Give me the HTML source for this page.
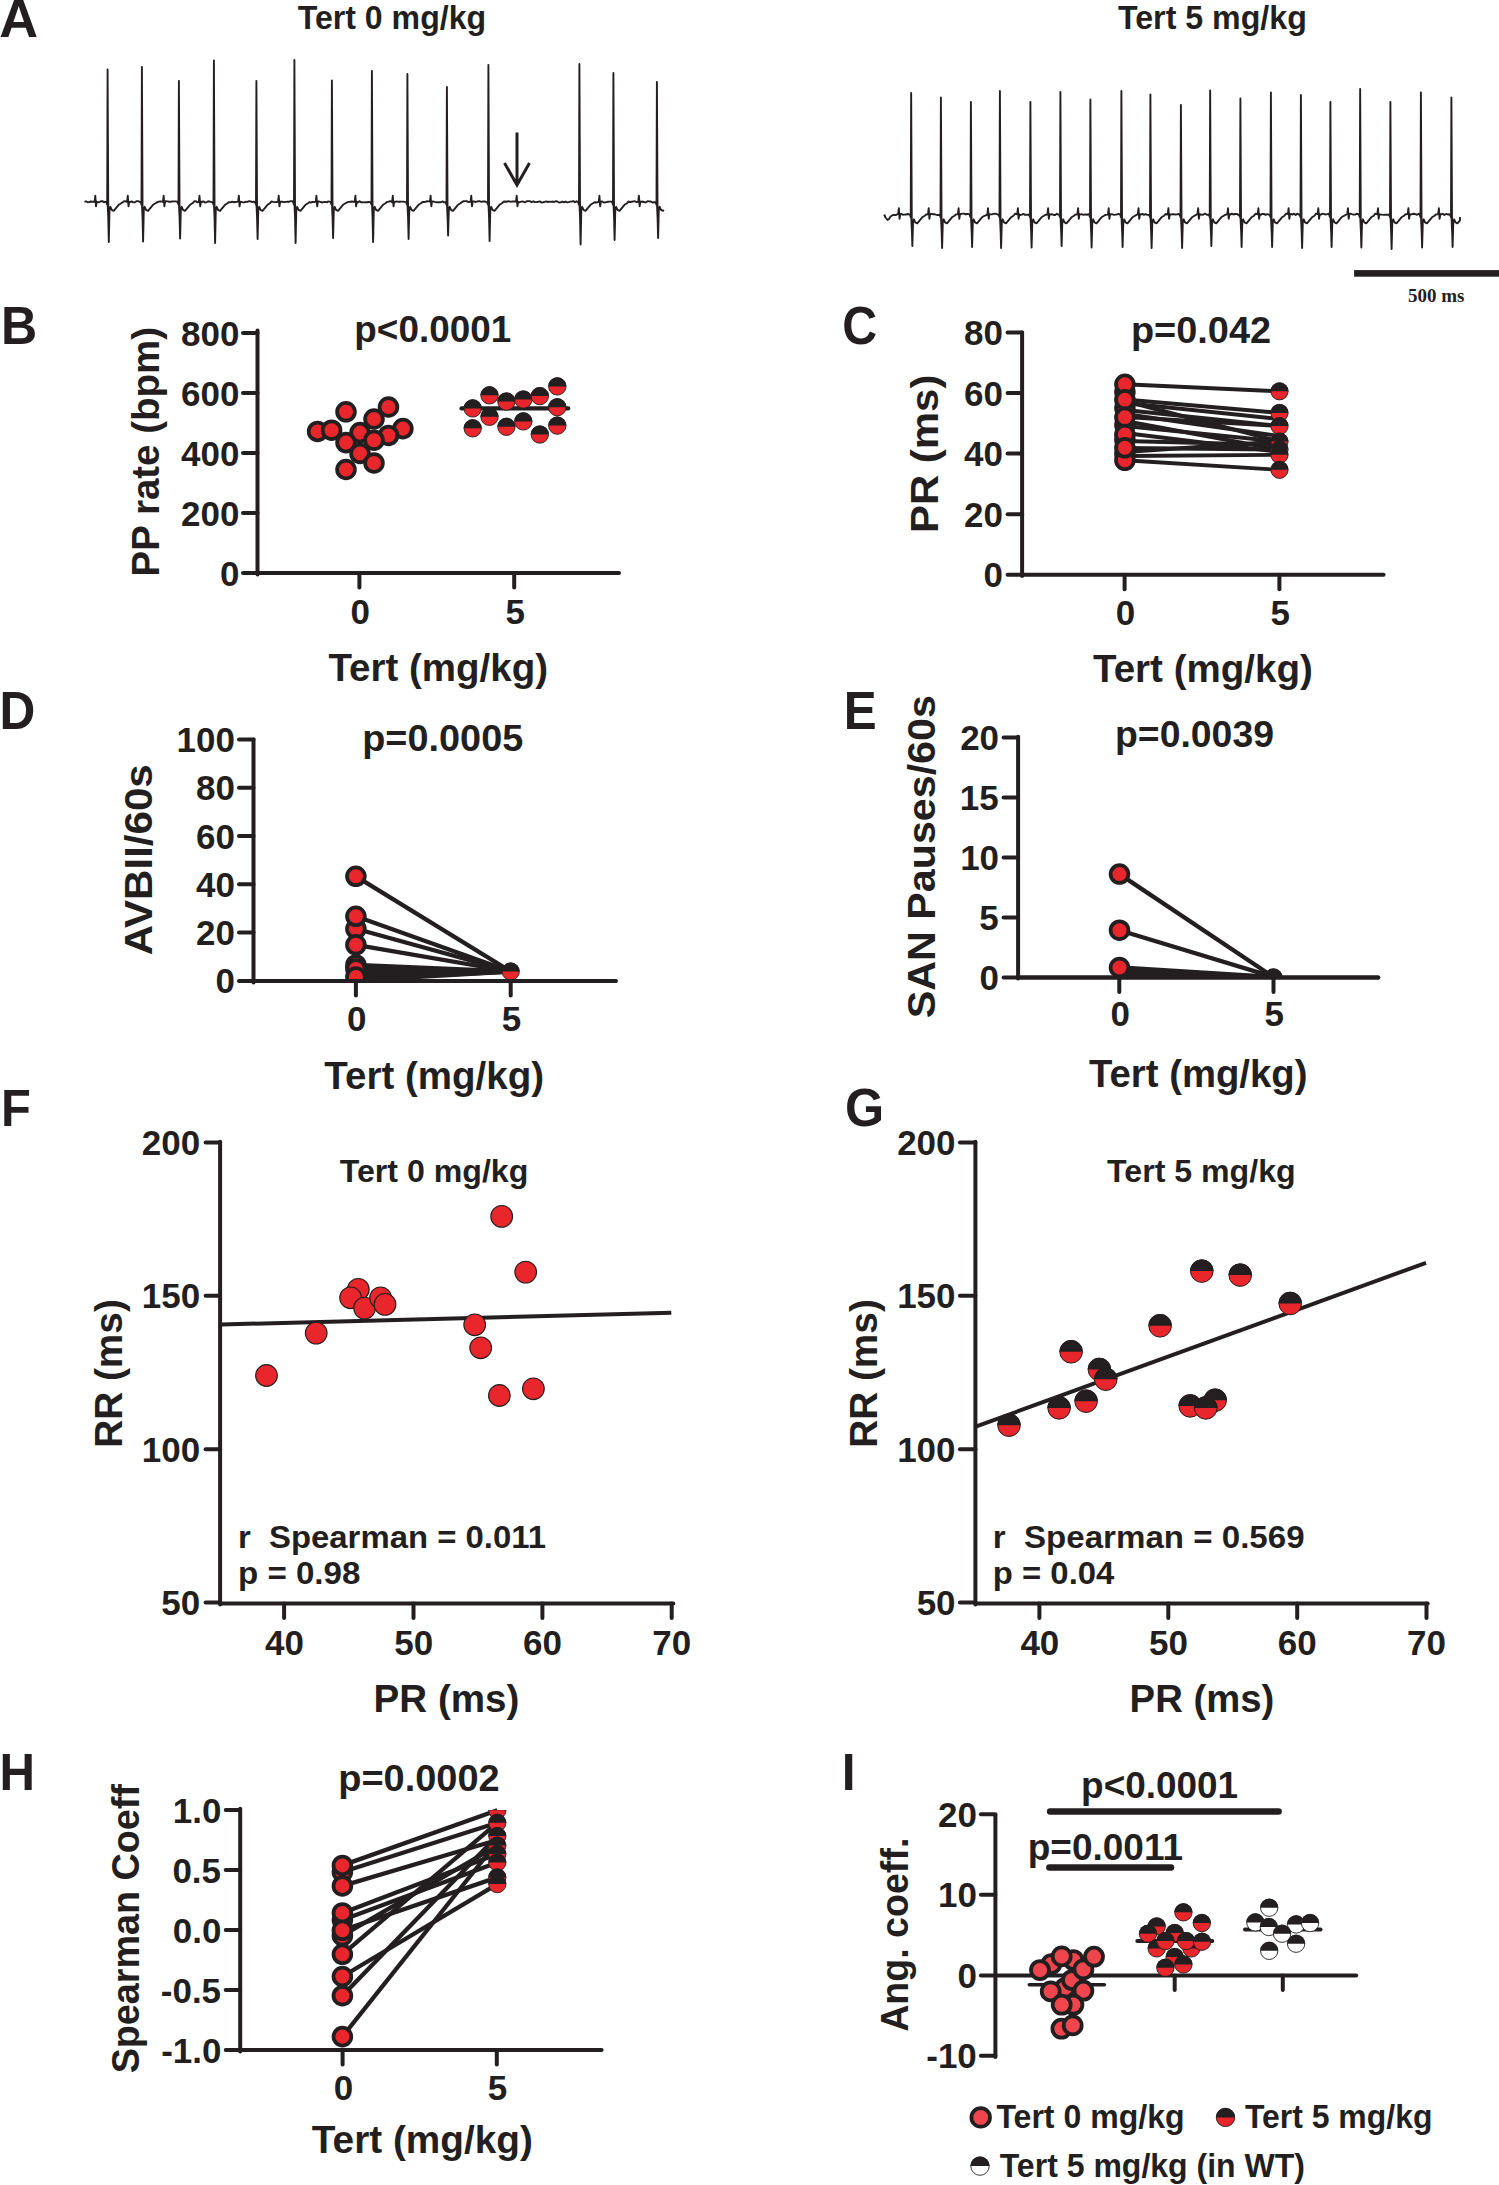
<!DOCTYPE html>
<html><head><meta charset="utf-8"><style>html,body{margin:0;padding:0;background:#fff;}svg{display:block}</style></head>
<body><svg width="1499" height="2185" viewBox="0 0 1499 2185">
<rect width="1499" height="2185" fill="#fff"/>
<text xml:space="preserve" transform="translate(-0.65,36.7) scale(1.0093,1)" font-family='"Liberation Sans", sans-serif' font-weight="bold" font-size="53.38" fill="#231f20">A</text>
<text xml:space="preserve" transform="translate(297.68,28.8) scale(0.9726,1)" font-family='"Liberation Sans", sans-serif' font-weight="bold" font-size="33" fill="#231f20">Tert 0 mg/kg</text>
<text xml:space="preserve" transform="translate(1117.98,28.9) scale(0.9747,1)" font-family='"Liberation Sans", sans-serif' font-weight="bold" font-size="33" fill="#231f20">Tert 5 mg/kg</text>
<path d="M84.5 201.8 L86 201.29 L87.6 202.29 L89.2 202.17 L90.8 201.46 L92.4 201.79 L94.6 201.76 L95.3 195.8 L96 206.3 L96.7 201.8 L97.6 202.01 L99.2 202.2 L100.8 201.23 L102.4 201.14 L104 202.27 L105.6 201.71 L106.4 202.3 L107.2 204.8 L107.6 69.5 L108.3 218.8 L107.7 204.8 L108.6 216.8 L108 206.8 L108.8 242 L109.5 209.8 L110.4 206.8 L111.7 209.8 L113.7 210.8 L116.2 207.8 L118.7 204.8 L121.2 203.3 L122.7 202.17 L124.3 201.1 L127.09 201.76 L127.79 195.8 L128.49 206.3 L129.19 201.8 L130.09 202.11 L131.69 201.42 L133.29 202.42 L134.89 202.36 L136.49 201.14 L138.09 201.14 L139.69 201.86 L140.7 202.3 L141.5 204.8 L141.9 67 L142.6 218.8 L142 204.8 L142.9 216.8 L142.3 206.8 L143.1 241.5 L143.8 209.8 L144.7 206.8 L146 209.8 L148 210.8 L150.5 207.8 L153 204.8 L155.5 203.3 L157 202.41 L158.6 201.63 L160.2 201.4 L162.96 201.74 L163.66 195.8 L164.36 206.3 L165.06 201.8 L165.96 201.14 L167.56 201.41 L169.16 201.71 L170.76 201.79 L172.36 201.43 L173.96 201.42 L175.56 201.41 L177.16 201.74 L177.7 202.3 L178.5 204.8 L178.9 81 L179.6 218.8 L179 204.8 L179.9 216.8 L179.3 206.8 L180.1 238.5 L180.8 209.8 L181.7 206.8 L183 209.8 L185 210.8 L187.5 207.8 L190 204.8 L192.5 203.3 L194 201.51 L195.6 201.13 L197.2 202.27 L198.8 201.85 L199.5 195.8 L200.2 206.3 L200.9 201.8 L201.8 202 L203.4 201.36 L205 202.49 L206.6 202.3 L208.2 201.27 L209.8 201.57 L211.4 202.11 L212.7 202.3 L213.5 204.8 L213.9 60.5 L214.6 218.8 L214 204.8 L214.9 216.8 L214.3 206.8 L215.1 243 L215.8 209.8 L216.7 206.8 L218 209.8 L220 210.8 L222.5 207.8 L225 204.8 L227.5 203.3 L229 202.1 L230.6 202.41 L232.2 201.69 L233.8 202.26 L235.4 202.04 L238.15 201.64 L238.85 195.8 L239.55 206.3 L240.25 201.8 L241.15 201.92 L242.75 202.34 L244.35 202.28 L245.95 201.81 L247.55 201.92 L249.15 201.15 L250.75 201.44 L252.35 202.22 L253.95 201.68 L255.2 202.3 L256 204.8 L256.4 81 L257.1 218.8 L256.5 204.8 L257.4 216.8 L256.8 206.8 L257.6 239 L258.3 209.8 L259.2 206.8 L260.5 209.8 L262.5 210.8 L265 207.8 L267.5 204.8 L270 203.3 L271.5 201.34 L273.1 201.87 L274.7 202.08 L276.3 202.04 L278.04 201.7 L278.74 195.8 L279.44 206.3 L280.14 201.8 L281.04 201.71 L282.64 201.81 L284.24 202.19 L285.84 201.83 L287.44 201.65 L289.04 201.79 L290.64 201.14 L292.24 201.16 L293.2 202.3 L294 204.8 L294.4 60 L295.1 218.8 L294.5 204.8 L295.4 216.8 L294.8 206.8 L295.6 243 L296.3 209.8 L297.2 206.8 L298.5 209.8 L300.5 210.8 L303 207.8 L305.5 204.8 L308 203.3 L309.5 202.08 L311.1 202.48 L312.7 201.93 L315.75 201.71 L316.45 195.8 L317.15 206.3 L317.85 201.8 L318.75 201.34 L320.35 201.8 L321.95 202.47 L323.55 202.18 L325.15 201.86 L326.75 202.3 L328.35 201.43 L329.95 201.82 L330.7 202.3 L331.5 204.8 L331.9 80.5 L332.6 218.8 L332 204.8 L332.9 216.8 L332.3 206.8 L333.1 238 L333.8 209.8 L334.7 206.8 L336 209.8 L338 210.8 L340.5 207.8 L343 204.8 L345.5 203.3 L347 202.43 L348.6 201.91 L350.2 201.74 L351.8 201.48 L354.7 201.84 L355.4 195.8 L356.1 206.3 L356.8 201.8 L357.7 202.44 L359.3 201.11 L360.9 202.2 L362.5 202.25 L364.1 202.34 L365.7 202.14 L367.3 202.23 L368.9 201.83 L370.7 202.3 L371.5 204.8 L371.9 71 L372.6 218.8 L372 204.8 L372.9 216.8 L372.3 206.8 L373.1 242 L373.8 209.8 L374.7 206.8 L376 209.8 L378 210.8 L380.5 207.8 L383 204.8 L385.5 203.3 L387 201.89 L388.6 201.7 L390.2 201.18 L392.09 202.1 L392.79 195.8 L393.49 206.3 L394.19 201.8 L395.09 201.9 L396.69 201.38 L398.29 201.81 L399.89 201.78 L401.49 201.6 L403.09 201.58 L404.69 201.85 L406.2 202.3 L407 204.8 L407.4 74 L408.1 218.8 L407.5 204.8 L408.4 216.8 L407.8 206.8 L408.6 239 L409.3 209.8 L410.2 206.8 L411.5 209.8 L413.5 210.8 L416 207.8 L418.5 204.8 L421 203.3 L422.5 201.97 L424.1 201.96 L425.7 201.74 L427.3 201.14 L429.91 201.58 L430.61 195.8 L431.31 206.3 L432.01 201.8 L432.91 201.35 L434.51 201.92 L436.11 202.31 L437.71 202.22 L439.31 202.22 L440.91 202.24 L442.51 201.46 L444.11 202.28 L445.7 202.3 L446.5 204.8 L446.9 87 L447.6 218.8 L447 204.8 L447.9 216.8 L447.3 206.8 L448.1 235.5 L448.8 209.8 L449.7 206.8 L451 209.8 L453 210.8 L455.5 207.8 L458 204.8 L460.5 203.3 L462 202.04 L463.6 201.22 L465.2 201.12 L466.8 201.12 L468.4 202.16 L470.57 201.6 L471.27 195.8 L471.97 206.3 L472.67 201.8 L473.57 201.25 L475.17 201.97 L476.77 201.58 L478.37 201.2 L479.97 201.32 L481.57 201.84 L483.17 201.34 L484.77 201.48 L486.37 202.1 L487.2 202.3 L488 204.8 L488.4 65 L489.1 218.8 L488.5 204.8 L489.4 216.8 L488.8 206.8 L489.6 241 L490.3 209.8 L491.2 206.8 L492.5 209.8 L494.5 210.8 L497 207.8 L499.5 204.8 L502 203.3 L503.5 201.74 L505.1 201.55 L506.7 201.76 L508.3 201.13 L509.9 201.64 L511.5 201.69 L513.1 201.36 L516 201.49 L516.7 195.8 L517.4 206.3 L518.1 201.8 L519 202.36 L520.6 201.81 L522.2 201.39 L523.8 201.95 L525.4 202.24 L527 201.13 L528.6 201.13 L530.2 201.31 L531.8 202.11 L533.4 201.32 L535 202.09 L536.6 202.05 L538.2 201.86 L539.8 201.41 L541.4 202.47 L543 202.22 L544.6 201.82 L546.2 201.41 L547.8 202.01 L549.4 201.65 L551 201.91 L552.6 201.55 L554.2 201.98 L555.8 201.18 L557.4 201.52 L559 202.46 L560.6 202.33 L562.2 201.53 L563.8 202.3 L565.4 201.53 L567 202.42 L568.6 202.14 L570.2 201.68 L571.8 201.45 L573.4 201.11 L575 202.33 L576.6 201.15 L578.2 202.3 L579 204.8 L579.4 64 L580.1 218.8 L579.5 204.8 L580.4 216.8 L579.8 206.8 L580.6 244.5 L581.3 209.8 L582.2 206.8 L583.5 209.8 L585.5 210.8 L588 207.8 L590.5 204.8 L593 203.3 L594.5 202.25 L596.1 202.45 L598.72 201.86 L599.42 195.8 L600.12 206.3 L600.82 201.8 L601.72 201.34 L603.32 202.31 L604.92 202.46 L606.52 202.09 L608.12 201.81 L609.72 201.63 L611.32 201.59 L612.2 202.3 L613 204.8 L613.4 73 L614.1 218.8 L613.5 204.8 L614.4 216.8 L613.8 206.8 L614.6 240 L615.3 209.8 L616.2 206.8 L617.5 209.8 L619.5 210.8 L622 207.8 L624.5 204.8 L627 203.3 L628.5 201.39 L630.1 202.04 L631.7 201.71 L633.3 201.37 L634.9 201.25 L636.5 202.03 L638.23 201.64 L638.93 195.8 L639.63 206.3 L640.33 201.8 L641.23 201.8 L642.83 201.56 L644.43 202.32 L646.03 202.36 L647.63 201.13 L649.23 201.38 L650.83 201.56 L652.43 202.48 L654.03 202.2 L655.7 202.3 L656.5 204.8 L656.9 82 L657.6 218.8 L657 204.8 L657.9 216.8 L657.3 206.8 L658.1 238 L658.8 209.8 L659.7 206.8 L661 209.8 L663 210.8 L664 210" fill="none" stroke="#231f20" stroke-width="1.9" stroke-linejoin="round"/>
<path d="M884.2 214.5 L885.5 217.5 L887.5 220 L889 219 L890.5 216.5 L893 215 L894.5 214.94 L896.1 214.93 L898.15 213.95 L898.85 208.3 L899.55 218.8 L900.25 214.3 L901.15 213.72 L902.75 214.77 L904.35 214.63 L905.95 214.54 L907.55 214.03 L909.15 214.45 L909.95 214.8 L910.75 217.3 L911.15 93 L911.85 231.3 L911.25 217.3 L912.15 229.3 L911.55 219.3 L912.35 246 L913.05 222.3 L913.95 219.3 L915.25 222.3 L917.25 223.3 L919.75 220.3 L922.25 217.3 L924.75 215.8 L926.25 214.45 L928 214.36 L928.71 208.3 L929.4 218.8 L930.11 214.3 L931 213.82 L932.61 214.2 L934.21 214.15 L935.81 214.61 L937.41 214.99 L939.01 214.93 L939.7 214.8 L940.5 217.3 L940.9 97.5 L941.6 231.3 L941 217.3 L941.9 229.3 L941.3 219.3 L942.1 248 L942.8 222.3 L943.7 219.3 L945 222.3 L947 223.3 L949.5 220.3 L952 217.3 L954.5 215.8 L956 214.36 L957.9 214.26 L958.6 208.3 L959.3 218.8 L960 214.3 L960.9 213.98 L962.5 213.65 L964.1 213.64 L965.7 214.25 L967.3 214.05 L968.9 214.13 L969.7 214.8 L970.5 217.3 L970.9 102 L971.6 231.3 L971 217.3 L971.9 229.3 L971.3 219.3 L972.1 247 L972.8 222.3 L973.7 219.3 L975 222.3 L977 223.3 L979.5 220.3 L982 217.3 L984.5 215.8 L987.32 214.61 L988.02 208.3 L988.72 218.8 L989.42 214.3 L990.32 214.34 L991.92 214.38 L993.52 213.93 L995.12 213.63 L996.72 214.06 L998.7 214.8 L999.5 217.3 L999.9 91 L1000.6 231.3 L1000 217.3 L1000.9 229.3 L1000.3 219.3 L1001.1 248 L1001.8 222.3 L1002.7 219.3 L1004 222.3 L1006 223.3 L1008.5 220.3 L1011 217.3 L1013.5 215.8 L1015 213.79 L1017.19 214.31 L1017.89 208.3 L1018.59 218.8 L1019.29 214.3 L1020.19 215 L1021.79 214.54 L1023.39 213.85 L1024.99 214.85 L1026.59 214.72 L1028.19 214.63 L1029.2 214.8 L1030 217.3 L1030.4 102 L1031.1 231.3 L1030.5 217.3 L1031.4 229.3 L1030.8 219.3 L1031.6 247.5 L1032.3 222.3 L1033.2 219.3 L1034.5 222.3 L1036.5 223.3 L1039 220.3 L1041.5 217.3 L1044 215.8 L1045.5 214.87 L1047.4 214.51 L1048.1 208.3 L1048.8 218.8 L1049.5 214.3 L1050.4 214.71 L1052 214.1 L1053.6 214.97 L1055.2 214.95 L1056.8 213.83 L1058.4 214.66 L1059.2 214.8 L1060 217.3 L1060.4 92 L1061.1 231.3 L1060.5 217.3 L1061.4 229.3 L1060.8 219.3 L1061.6 246 L1062.3 222.3 L1063.2 219.3 L1064.5 222.3 L1066.5 223.3 L1069 220.3 L1071.5 217.3 L1074 215.8 L1075.5 214.6 L1077.4 214.27 L1078.1 208.3 L1078.8 218.8 L1079.5 214.3 L1080.4 214.34 L1082 214.29 L1083.6 214.89 L1085.2 214.3 L1086.8 214.76 L1088.4 214.1 L1089.2 214.8 L1090 217.3 L1090.4 99.5 L1091.1 231.3 L1090.5 217.3 L1091.4 229.3 L1090.8 219.3 L1091.6 247.5 L1092.3 222.3 L1093.2 219.3 L1094.5 222.3 L1096.5 223.3 L1099 220.3 L1101.5 217.3 L1104 215.8 L1105.5 214.84 L1107.98 214.62 L1108.68 208.3 L1109.38 218.8 L1110.08 214.3 L1110.98 214.25 L1112.58 214.39 L1114.18 214.89 L1115.78 214.61 L1117.38 214.28 L1118.98 213.91 L1120.2 214.8 L1121 217.3 L1121.4 91 L1122.1 231.3 L1121.5 217.3 L1122.4 229.3 L1121.8 219.3 L1122.6 247 L1123.3 222.3 L1124.2 219.3 L1125.5 222.3 L1127.5 223.3 L1130 220.3 L1132.5 217.3 L1135 215.8 L1137.82 214.16 L1138.52 208.3 L1139.22 218.8 L1139.92 214.3 L1140.82 214.58 L1142.42 213.83 L1144.02 214.87 L1145.62 213.98 L1147.22 214.88 L1149.2 214.8 L1150 217.3 L1150.4 94.5 L1151.1 231.3 L1150.5 217.3 L1151.4 229.3 L1150.8 219.3 L1151.6 248 L1152.3 222.3 L1153.2 219.3 L1154.5 222.3 L1156.5 223.3 L1159 220.3 L1161.5 217.3 L1164 215.8 L1165.5 214.03 L1167.69 214.67 L1168.39 208.3 L1169.09 218.8 L1169.79 214.3 L1170.69 214.59 L1172.29 214.31 L1173.89 214.32 L1175.49 214.51 L1177.09 214.42 L1178.69 214.04 L1179.7 214.8 L1180.5 217.3 L1180.9 105 L1181.6 231.3 L1181 217.3 L1181.9 229.3 L1181.3 219.3 L1182.1 248 L1182.8 222.3 L1183.7 219.3 L1185 222.3 L1187 223.3 L1189.5 220.3 L1192 217.3 L1194.5 215.8 L1197.46 214.07 L1198.16 208.3 L1198.87 218.8 L1199.56 214.3 L1200.46 214.32 L1202.06 214.91 L1203.66 214.47 L1205.26 213.71 L1206.86 214.75 L1208.46 214.62 L1208.95 214.8 L1209.75 217.3 L1210.15 90.5 L1210.85 231.3 L1210.25 217.3 L1211.15 229.3 L1210.55 219.3 L1211.35 246 L1212.05 222.3 L1212.95 219.3 L1214.25 222.3 L1216.25 223.3 L1218.75 220.3 L1221.25 217.3 L1223.75 215.8 L1225.25 214.87 L1227.3 214.05 L1228 208.3 L1228.7 218.8 L1229.39 214.3 L1230.3 214.64 L1231.89 213.68 L1233.49 214.51 L1235.09 213.98 L1236.69 213.92 L1238.29 214.83 L1239.2 214.8 L1240 217.3 L1240.4 98.5 L1241.1 231.3 L1240.5 217.3 L1241.4 229.3 L1240.8 219.3 L1241.6 247 L1242.3 222.3 L1243.2 219.3 L1244.5 222.3 L1246.5 223.3 L1249 220.3 L1251.5 217.3 L1254 215.8 L1255.5 213.75 L1257.69 214.32 L1258.39 208.3 L1259.09 218.8 L1259.79 214.3 L1260.69 214.8 L1262.29 213.94 L1263.89 213.89 L1265.49 214.83 L1267.09 214.19 L1268.69 214.6 L1269.7 214.8 L1270.5 217.3 L1270.9 92.5 L1271.6 231.3 L1271 217.3 L1271.9 229.3 L1271.3 219.3 L1272.1 247 L1272.8 222.3 L1273.7 219.3 L1275 222.3 L1277 223.3 L1279.5 220.3 L1282 217.3 L1284.5 215.8 L1286 213.64 L1287.9 214.19 L1288.6 208.3 L1289.3 218.8 L1290 214.3 L1290.9 213.84 L1292.5 214.54 L1294.1 213.72 L1295.7 214.94 L1297.3 213.64 L1298.9 214.62 L1299.7 214.8 L1300.5 217.3 L1300.9 95 L1301.6 231.3 L1301 217.3 L1301.9 229.3 L1301.3 219.3 L1302.1 248 L1302.8 222.3 L1303.7 219.3 L1305 222.3 L1307 223.3 L1309.5 220.3 L1312 217.3 L1314.5 215.8 L1316 213.63 L1317.61 214.1 L1318.31 208.3 L1319.01 218.8 L1319.71 214.3 L1320.61 214.74 L1322.21 213.82 L1323.81 213.86 L1325.41 214.57 L1327.01 214.14 L1328.61 213.66 L1329.2 214.8 L1330 217.3 L1330.4 102 L1331.1 231.3 L1330.5 217.3 L1331.4 229.3 L1330.8 219.3 L1331.6 247 L1332.3 222.3 L1333.2 219.3 L1334.5 222.3 L1336.5 223.3 L1339 220.3 L1341.5 217.3 L1344 215.8 L1345.5 214.99 L1347.26 214.02 L1347.96 208.3 L1348.66 218.8 L1349.36 214.3 L1350.26 213.65 L1351.86 214.08 L1353.45 214.46 L1355.05 214.64 L1356.65 213.76 L1358.25 214.07 L1358.95 214.8 L1359.75 217.3 L1360.15 89 L1360.85 231.3 L1360.25 217.3 L1361.15 229.3 L1360.55 219.3 L1361.35 247.5 L1362.05 222.3 L1362.95 219.3 L1364.25 222.3 L1366.25 223.3 L1368.75 220.3 L1371.25 217.3 L1373.75 215.8 L1375.25 213.64 L1377.3 214.26 L1378 208.3 L1378.7 218.8 L1379.39 214.3 L1380.3 214.67 L1381.89 214.64 L1383.49 214.86 L1385.09 214.66 L1386.69 214.81 L1388.29 214.59 L1389.2 214.8 L1390 217.3 L1390.4 102 L1391.1 231.3 L1390.5 217.3 L1391.4 229.3 L1390.8 219.3 L1391.6 249 L1392.3 222.3 L1393.2 219.3 L1394.5 222.3 L1396.5 223.3 L1399 220.3 L1401.5 217.3 L1404 215.8 L1405.5 214.26 L1407.69 214.08 L1408.39 208.3 L1409.09 218.8 L1409.79 214.3 L1410.69 214.53 L1412.29 214.04 L1413.89 213.74 L1415.49 214.23 L1417.09 214.82 L1418.69 213.78 L1419.7 214.8 L1420.5 217.3 L1420.9 92.5 L1421.6 231.3 L1421 217.3 L1421.9 229.3 L1421.3 219.3 L1422.1 247.5 L1422.8 222.3 L1423.7 219.3 L1425 222.3 L1427 223.3 L1429.5 220.3 L1432 217.3 L1434.5 215.8 L1436 214.42 L1438.19 214.21 L1438.89 208.3 L1439.59 218.8 L1440.29 214.3 L1441.19 214.32 L1442.79 213.8 L1444.39 214.94 L1445.99 213.96 L1447.59 214.45 L1449.19 214.19 L1450.2 214.8 L1451 217.3 L1451.4 97.5 L1452.1 231.3 L1451.5 217.3 L1452.4 229.3 L1451.8 219.3 L1452.6 247 L1453.3 222.3 L1454.2 219.3 L1455.5 222.3 L1457.5 223.3 L1460 220.3 L1460 217" fill="none" stroke="#231f20" stroke-width="1.9" stroke-linejoin="round"/>
<path d="M517 132.5 L517 184 M504.5 163 L517 185 L529.5 163" fill="none" stroke="#231f20" stroke-width="3"/>
<rect x="1354.1" y="270.1" width="145" height="6.6" fill="#231f20"/>
<text xml:space="preserve" transform="translate(1407.94,302.4)" font-family='"Liberation Serif", serif' font-weight="bold" font-size="18.99" fill="#231f20">500 ms</text>
<text xml:space="preserve" transform="translate(1.01,343.6) scale(0.9449,1)" font-family='"Liberation Sans", sans-serif' font-weight="bold" font-size="53.09" fill="#231f20">B</text>
<text xml:space="preserve" transform="translate(354.3,342.2) scale(1.0165,1)" font-family='"Liberation Sans", sans-serif' font-weight="bold" font-size="36.3" fill="#231f20">p&lt;0.0001</text>
<line x1="257.5" y1="330.5" x2="257.5" y2="574.5" stroke="#231f20" stroke-width="4" stroke-linecap="round"/>
<line x1="243" y1="573" x2="257.5" y2="573" stroke="#231f20" stroke-width="4" stroke-linecap="round"/>
<line x1="243" y1="513" x2="257.5" y2="513" stroke="#231f20" stroke-width="4" stroke-linecap="round"/>
<line x1="243" y1="453" x2="257.5" y2="453" stroke="#231f20" stroke-width="4" stroke-linecap="round"/>
<line x1="243" y1="393" x2="257.5" y2="393" stroke="#231f20" stroke-width="4" stroke-linecap="round"/>
<line x1="243" y1="333" x2="257.5" y2="333" stroke="#231f20" stroke-width="4" stroke-linecap="round"/>
<text xml:space="preserve" transform="translate(219.97,585.5) scale(0.9777,1)" font-family='"Liberation Sans", sans-serif' font-weight="bold" font-size="35.8" fill="#231f20">0</text>
<text xml:space="preserve" transform="translate(181.04,525.5) scale(0.9777,1)" font-family='"Liberation Sans", sans-serif' font-weight="bold" font-size="35.8" fill="#231f20">200</text>
<text xml:space="preserve" transform="translate(181.04,465.5) scale(0.9777,1)" font-family='"Liberation Sans", sans-serif' font-weight="bold" font-size="35.8" fill="#231f20">400</text>
<text xml:space="preserve" transform="translate(181.04,405.5) scale(0.9777,1)" font-family='"Liberation Sans", sans-serif' font-weight="bold" font-size="35.8" fill="#231f20">600</text>
<text xml:space="preserve" transform="translate(181.04,345.5) scale(0.9777,1)" font-family='"Liberation Sans", sans-serif' font-weight="bold" font-size="35.8" fill="#231f20">800</text>
<line x1="257.5" y1="573" x2="619" y2="573" stroke="#231f20" stroke-width="4" stroke-linecap="round"/>
<line x1="359.4" y1="573" x2="359.4" y2="587.5" stroke="#231f20" stroke-width="4" stroke-linecap="round"/>
<line x1="514.2" y1="573" x2="514.2" y2="587.5" stroke="#231f20" stroke-width="4" stroke-linecap="round"/>
<text xml:space="preserve" transform="translate(350.49,623.6) scale(0.9777,1)" font-family='"Liberation Sans", sans-serif' font-weight="bold" font-size="35.8" fill="#231f20">0</text>
<text xml:space="preserve" transform="translate(505.54,623.6) scale(0.9777,1)" font-family='"Liberation Sans", sans-serif' font-weight="bold" font-size="35.8" fill="#231f20">5</text>
<text xml:space="preserve" transform="translate(328.41,681.1) scale(0.9750,1)" font-family='"Liberation Sans", sans-serif' font-weight="bold" font-size="39.5" fill="#231f20">Tert (mg/kg)</text>
<text transform="translate(159.1,576.4) rotate(-90) scale(0.9741,1)" font-family='"Liberation Sans", sans-serif' font-weight="bold" font-size="39.5" fill="#231f20">PP rate (bpm)</text>
<circle cx="402.9" cy="428.6" r="8.9" fill="#e8262b" stroke="#231f20" stroke-width="3.75"/>
<circle cx="388.5" cy="435.4" r="8.9" fill="#e8262b" stroke="#231f20" stroke-width="3.75"/>
<circle cx="317.6" cy="431.4" r="8.9" fill="#e8262b" stroke="#231f20" stroke-width="3.75"/>
<circle cx="331.6" cy="430.2" r="8.9" fill="#e8262b" stroke="#231f20" stroke-width="3.75"/>
<circle cx="346" cy="411.8" r="8.9" fill="#e8262b" stroke="#231f20" stroke-width="3.75"/>
<circle cx="360" cy="432.6" r="8.9" fill="#e8262b" stroke="#231f20" stroke-width="3.75"/>
<circle cx="374" cy="419" r="8.9" fill="#e8262b" stroke="#231f20" stroke-width="3.75"/>
<circle cx="388.5" cy="407" r="8.9" fill="#e8262b" stroke="#231f20" stroke-width="3.75"/>
<circle cx="346" cy="442.6" r="8.9" fill="#e8262b" stroke="#231f20" stroke-width="3.75"/>
<circle cx="374" cy="440.2" r="8.9" fill="#e8262b" stroke="#231f20" stroke-width="3.75"/>
<circle cx="360" cy="453.4" r="8.9" fill="#e8262b" stroke="#231f20" stroke-width="3.75"/>
<circle cx="374" cy="463" r="8.9" fill="#e8262b" stroke="#231f20" stroke-width="3.75"/>
<circle cx="346" cy="469.5" r="8.9" fill="#e8262b" stroke="#231f20" stroke-width="3.75"/>
<line x1="461.5" y1="408.4" x2="568.2" y2="408.4" stroke="#231f20" stroke-width="4.2" stroke-linecap="round"/>
<circle cx="472.7" cy="408.4" r="8.7" fill="#e8262b" stroke="#231f20" stroke-width="0.9"/>
<path d="M463.65 408.4A9.05 9.05 0 0 1 481.75 408.4Z" fill="#231f20"/>
<circle cx="489.5" cy="395.3" r="8.7" fill="#e8262b" stroke="#231f20" stroke-width="0.9"/>
<path d="M480.45 395.3A9.05 9.05 0 0 1 498.55 395.3Z" fill="#231f20"/>
<circle cx="489.5" cy="416.8" r="8.7" fill="#e8262b" stroke="#231f20" stroke-width="0.9"/>
<path d="M480.45 416.8A9.05 9.05 0 0 1 498.55 416.8Z" fill="#231f20"/>
<circle cx="472.7" cy="428.3" r="8.7" fill="#e8262b" stroke="#231f20" stroke-width="0.9"/>
<path d="M463.65 428.3A9.05 9.05 0 0 1 481.75 428.3Z" fill="#231f20"/>
<circle cx="506.4" cy="401.5" r="8.7" fill="#e8262b" stroke="#231f20" stroke-width="0.9"/>
<path d="M497.35 401.5A9.05 9.05 0 0 1 515.45 401.5Z" fill="#231f20"/>
<circle cx="506.4" cy="426.8" r="8.7" fill="#e8262b" stroke="#231f20" stroke-width="0.9"/>
<path d="M497.35 426.8A9.05 9.05 0 0 1 515.45 426.8Z" fill="#231f20"/>
<circle cx="523.3" cy="399.5" r="8.7" fill="#e8262b" stroke="#231f20" stroke-width="0.9"/>
<path d="M514.25 399.5A9.05 9.05 0 0 1 532.35 399.5Z" fill="#231f20"/>
<circle cx="523.3" cy="421.4" r="8.7" fill="#e8262b" stroke="#231f20" stroke-width="0.9"/>
<path d="M514.25 421.4A9.05 9.05 0 0 1 532.35 421.4Z" fill="#231f20"/>
<circle cx="539.8" cy="396.1" r="8.7" fill="#e8262b" stroke="#231f20" stroke-width="0.9"/>
<path d="M530.75 396.1A9.05 9.05 0 0 1 548.85 396.1Z" fill="#231f20"/>
<circle cx="539.8" cy="434.5" r="8.7" fill="#e8262b" stroke="#231f20" stroke-width="0.9"/>
<path d="M530.75 434.5A9.05 9.05 0 0 1 548.85 434.5Z" fill="#231f20"/>
<circle cx="557.3" cy="386.4" r="8.7" fill="#e8262b" stroke="#231f20" stroke-width="0.9"/>
<path d="M548.25 386.4A9.05 9.05 0 0 1 566.35 386.4Z" fill="#231f20"/>
<circle cx="557.3" cy="407.2" r="8.7" fill="#e8262b" stroke="#231f20" stroke-width="0.9"/>
<path d="M548.25 407.2A9.05 9.05 0 0 1 566.35 407.2Z" fill="#231f20"/>
<circle cx="557.3" cy="425.6" r="8.7" fill="#e8262b" stroke="#231f20" stroke-width="0.9"/>
<path d="M548.25 425.6A9.05 9.05 0 0 1 566.35 425.6Z" fill="#231f20"/>
<text xml:space="preserve" transform="translate(842.16,343.67) scale(0.9107,1)" font-family='"Liberation Sans", sans-serif' font-weight="bold" font-size="53.14" fill="#231f20">C</text>
<text xml:space="preserve" transform="translate(1130.94,343.4) scale(1.0444,1)" font-family='"Liberation Sans", sans-serif' font-weight="bold" font-size="36.3" fill="#231f20">p=0.042</text>
<line x1="1022.1" y1="332.5" x2="1022.1" y2="576" stroke="#231f20" stroke-width="4" stroke-linecap="round"/>
<line x1="1007.6" y1="574.7" x2="1022.1" y2="574.7" stroke="#231f20" stroke-width="4" stroke-linecap="round"/>
<line x1="1007.6" y1="514.15" x2="1022.1" y2="514.15" stroke="#231f20" stroke-width="4" stroke-linecap="round"/>
<line x1="1007.6" y1="453.6" x2="1022.1" y2="453.6" stroke="#231f20" stroke-width="4" stroke-linecap="round"/>
<line x1="1007.6" y1="393.05" x2="1022.1" y2="393.05" stroke="#231f20" stroke-width="4" stroke-linecap="round"/>
<line x1="1007.6" y1="332.5" x2="1022.1" y2="332.5" stroke="#231f20" stroke-width="4" stroke-linecap="round"/>
<text xml:space="preserve" transform="translate(983.48,587.2) scale(0.9777,1)" font-family='"Liberation Sans", sans-serif' font-weight="bold" font-size="35.8" fill="#231f20">0</text>
<text xml:space="preserve" transform="translate(964.05,526.65) scale(0.9777,1)" font-family='"Liberation Sans", sans-serif' font-weight="bold" font-size="35.8" fill="#231f20">20</text>
<text xml:space="preserve" transform="translate(964.05,466.1) scale(0.9777,1)" font-family='"Liberation Sans", sans-serif' font-weight="bold" font-size="35.8" fill="#231f20">40</text>
<text xml:space="preserve" transform="translate(964.05,405.55) scale(0.9777,1)" font-family='"Liberation Sans", sans-serif' font-weight="bold" font-size="35.8" fill="#231f20">60</text>
<text xml:space="preserve" transform="translate(964.05,345) scale(0.9777,1)" font-family='"Liberation Sans", sans-serif' font-weight="bold" font-size="35.8" fill="#231f20">80</text>
<line x1="1022.1" y1="574.7" x2="1383.6" y2="574.7" stroke="#231f20" stroke-width="4" stroke-linecap="round"/>
<line x1="1124.6" y1="574.7" x2="1124.6" y2="589.2" stroke="#231f20" stroke-width="4" stroke-linecap="round"/>
<line x1="1279.4" y1="574.7" x2="1279.4" y2="589.2" stroke="#231f20" stroke-width="4" stroke-linecap="round"/>
<text xml:space="preserve" transform="translate(1115.69,624.6) scale(0.9777,1)" font-family='"Liberation Sans", sans-serif' font-weight="bold" font-size="35.8" fill="#231f20">0</text>
<text xml:space="preserve" transform="translate(1270.44,624.6) scale(0.9777,1)" font-family='"Liberation Sans", sans-serif' font-weight="bold" font-size="35.8" fill="#231f20">5</text>
<text xml:space="preserve" transform="translate(1093.01,681.7) scale(0.9759,1)" font-family='"Liberation Sans", sans-serif' font-weight="bold" font-size="39.5" fill="#231f20">Tert (mg/kg)</text>
<text transform="translate(937.5,533.03) rotate(-90) scale(1.0618,1)" font-family='"Liberation Sans", sans-serif' font-weight="bold" font-size="39.5" fill="#231f20">PR (ms)</text>
<line x1="1124.9" y1="384.3" x2="1279.5" y2="391.3" stroke="#231f20" stroke-width="3.9" stroke-linecap="butt"/>
<line x1="1124.9" y1="399.5" x2="1279.5" y2="412.9" stroke="#231f20" stroke-width="3.9" stroke-linecap="butt"/>
<line x1="1124.9" y1="401" x2="1279.5" y2="441.5" stroke="#231f20" stroke-width="3.9" stroke-linecap="butt"/>
<line x1="1124.9" y1="403" x2="1279.5" y2="419" stroke="#231f20" stroke-width="3.9" stroke-linecap="butt"/>
<line x1="1124.9" y1="410" x2="1279.5" y2="426" stroke="#231f20" stroke-width="3.9" stroke-linecap="butt"/>
<line x1="1124.9" y1="414" x2="1279.5" y2="436" stroke="#231f20" stroke-width="3.9" stroke-linecap="butt"/>
<line x1="1124.9" y1="417" x2="1279.5" y2="426.1" stroke="#231f20" stroke-width="3.9" stroke-linecap="butt"/>
<line x1="1124.9" y1="421" x2="1279.5" y2="449.6" stroke="#231f20" stroke-width="3.9" stroke-linecap="butt"/>
<line x1="1124.9" y1="426" x2="1279.5" y2="441.5" stroke="#231f20" stroke-width="3.9" stroke-linecap="butt"/>
<line x1="1124.9" y1="433" x2="1279.5" y2="452" stroke="#231f20" stroke-width="3.9" stroke-linecap="butt"/>
<line x1="1124.9" y1="441" x2="1279.5" y2="445" stroke="#231f20" stroke-width="3.9" stroke-linecap="butt"/>
<line x1="1124.9" y1="448" x2="1279.5" y2="449.6" stroke="#231f20" stroke-width="3.9" stroke-linecap="butt"/>
<line x1="1124.9" y1="452" x2="1279.5" y2="441.5" stroke="#231f20" stroke-width="3.9" stroke-linecap="butt"/>
<line x1="1124.9" y1="456" x2="1279.5" y2="454.8" stroke="#231f20" stroke-width="3.9" stroke-linecap="butt"/>
<line x1="1124.9" y1="460.3" x2="1279.5" y2="469.8" stroke="#231f20" stroke-width="3.9" stroke-linecap="butt"/>
<circle cx="1124.9" cy="392" r="8.9" fill="#e8262b" stroke="#231f20" stroke-width="3.75"/>
<circle cx="1124.9" cy="408" r="8.9" fill="#e8262b" stroke="#231f20" stroke-width="3.75"/>
<circle cx="1124.9" cy="425" r="8.9" fill="#e8262b" stroke="#231f20" stroke-width="3.75"/>
<circle cx="1124.9" cy="440" r="8.9" fill="#e8262b" stroke="#231f20" stroke-width="3.75"/>
<circle cx="1124.9" cy="454" r="8.9" fill="#e8262b" stroke="#231f20" stroke-width="3.75"/>
<circle cx="1124.9" cy="384.3" r="8.9" fill="#e8262b" stroke="#231f20" stroke-width="3.75"/>
<circle cx="1124.9" cy="399.7" r="8.9" fill="#e8262b" stroke="#231f20" stroke-width="3.75"/>
<circle cx="1124.9" cy="417.3" r="8.9" fill="#e8262b" stroke="#231f20" stroke-width="3.75"/>
<circle cx="1124.9" cy="434.5" r="8.9" fill="#e8262b" stroke="#231f20" stroke-width="3.75"/>
<circle cx="1124.9" cy="460.3" r="8.9" fill="#e8262b" stroke="#231f20" stroke-width="3.75"/>
<circle cx="1124.9" cy="447.8" r="8.9" fill="#e8262b" stroke="#231f20" stroke-width="3.75"/>
<circle cx="1279.5" cy="391.3" r="8.6" fill="#e8262b" stroke="#231f20" stroke-width="0.9"/>
<path d="M1270.55 391.3A8.95 8.95 0 0 1 1288.45 391.3Z" fill="#231f20"/>
<circle cx="1279.5" cy="412.9" r="8.6" fill="#e8262b" stroke="#231f20" stroke-width="0.9"/>
<path d="M1270.55 412.9A8.95 8.95 0 0 1 1288.45 412.9Z" fill="#231f20"/>
<circle cx="1279.5" cy="426.1" r="8.6" fill="#e8262b" stroke="#231f20" stroke-width="0.9"/>
<path d="M1270.55 426.1A8.95 8.95 0 0 1 1288.45 426.1Z" fill="#231f20"/>
<circle cx="1279.5" cy="441.5" r="8.6" fill="#e8262b" stroke="#231f20" stroke-width="0.9"/>
<path d="M1270.55 441.5A8.95 8.95 0 0 1 1288.45 441.5Z" fill="#231f20"/>
<circle cx="1279.5" cy="449.6" r="8.6" fill="#e8262b" stroke="#231f20" stroke-width="0.9"/>
<path d="M1270.55 449.6A8.95 8.95 0 0 1 1288.45 449.6Z" fill="#231f20"/>
<circle cx="1279.5" cy="454.8" r="8.6" fill="#e8262b" stroke="#231f20" stroke-width="0.9"/>
<path d="M1270.55 454.8A8.95 8.95 0 0 1 1288.45 454.8Z" fill="#231f20"/>
<circle cx="1279.5" cy="469.8" r="8.6" fill="#e8262b" stroke="#231f20" stroke-width="0.9"/>
<path d="M1270.55 469.8A8.95 8.95 0 0 1 1288.45 469.8Z" fill="#231f20"/>
<text xml:space="preserve" transform="translate(-0.55,728.75) scale(0.9336,1)" font-family='"Liberation Sans", sans-serif' font-weight="bold" font-size="53.16" fill="#231f20">D</text>
<text xml:space="preserve" transform="translate(362.24,750.8) scale(1.0430,1)" font-family='"Liberation Sans", sans-serif' font-weight="bold" font-size="36.3" fill="#231f20">p=0.0005</text>
<line x1="253.5" y1="739.5" x2="253.5" y2="982.5" stroke="#231f20" stroke-width="4" stroke-linecap="round"/>
<line x1="239" y1="980.9" x2="253.5" y2="980.9" stroke="#231f20" stroke-width="4" stroke-linecap="round"/>
<line x1="239" y1="932.6" x2="253.5" y2="932.6" stroke="#231f20" stroke-width="4" stroke-linecap="round"/>
<line x1="239" y1="884.3" x2="253.5" y2="884.3" stroke="#231f20" stroke-width="4" stroke-linecap="round"/>
<line x1="239" y1="836" x2="253.5" y2="836" stroke="#231f20" stroke-width="4" stroke-linecap="round"/>
<line x1="239" y1="787.7" x2="253.5" y2="787.7" stroke="#231f20" stroke-width="4" stroke-linecap="round"/>
<line x1="239" y1="739.4" x2="253.5" y2="739.4" stroke="#231f20" stroke-width="4" stroke-linecap="round"/>
<text xml:space="preserve" transform="translate(215.47,993.4) scale(0.9777,1)" font-family='"Liberation Sans", sans-serif' font-weight="bold" font-size="35.8" fill="#231f20">0</text>
<text xml:space="preserve" transform="translate(196.05,945.1) scale(0.9777,1)" font-family='"Liberation Sans", sans-serif' font-weight="bold" font-size="35.8" fill="#231f20">20</text>
<text xml:space="preserve" transform="translate(196.05,896.8) scale(0.9777,1)" font-family='"Liberation Sans", sans-serif' font-weight="bold" font-size="35.8" fill="#231f20">40</text>
<text xml:space="preserve" transform="translate(196.05,848.5) scale(0.9777,1)" font-family='"Liberation Sans", sans-serif' font-weight="bold" font-size="35.8" fill="#231f20">60</text>
<text xml:space="preserve" transform="translate(196.05,800.2) scale(0.9777,1)" font-family='"Liberation Sans", sans-serif' font-weight="bold" font-size="35.8" fill="#231f20">80</text>
<text xml:space="preserve" transform="translate(176.54,751.9) scale(0.9777,1)" font-family='"Liberation Sans", sans-serif' font-weight="bold" font-size="35.8" fill="#231f20">100</text>
<line x1="253.5" y1="980.9" x2="615.7" y2="980.9" stroke="#231f20" stroke-width="4" stroke-linecap="round"/>
<line x1="355.9" y1="980.9" x2="355.9" y2="995.4" stroke="#231f20" stroke-width="4" stroke-linecap="round"/>
<line x1="510.7" y1="980.9" x2="510.7" y2="995.4" stroke="#231f20" stroke-width="4" stroke-linecap="round"/>
<text xml:space="preserve" transform="translate(346.99,1031) scale(0.9777,1)" font-family='"Liberation Sans", sans-serif' font-weight="bold" font-size="35.8" fill="#231f20">0</text>
<text xml:space="preserve" transform="translate(501.74,1031) scale(0.9777,1)" font-family='"Liberation Sans", sans-serif' font-weight="bold" font-size="35.8" fill="#231f20">5</text>
<text xml:space="preserve" transform="translate(324.31,1089.2) scale(0.9759,1)" font-family='"Liberation Sans", sans-serif' font-weight="bold" font-size="39.5" fill="#231f20">Tert (mg/kg)</text>
<text transform="translate(151.5,955.25) rotate(-90) scale(1.0653,1)" font-family='"Liberation Sans", sans-serif' font-weight="bold" font-size="39.5" fill="#231f20">AVBII/60s</text>
<clipPath id="dc"><rect x="330" y="850" width="200" height="130.9"/></clipPath><g clip-path="url(#dc)">
<line x1="355.9" y1="876.3" x2="510.7" y2="971.5" stroke="#231f20" stroke-width="4.3" stroke-linecap="butt"/>
<line x1="355.9" y1="916.3" x2="510.7" y2="971.5" stroke="#231f20" stroke-width="4.3" stroke-linecap="butt"/>
<line x1="355.9" y1="928.8" x2="510.7" y2="971.5" stroke="#231f20" stroke-width="4.3" stroke-linecap="butt"/>
<line x1="355.9" y1="944.8" x2="510.7" y2="971.5" stroke="#231f20" stroke-width="4.3" stroke-linecap="butt"/>
<line x1="355.9" y1="964.9" x2="510.7" y2="971.5" stroke="#231f20" stroke-width="4.3" stroke-linecap="butt"/>
<line x1="355.9" y1="968.9" x2="510.7" y2="971.5" stroke="#231f20" stroke-width="4.3" stroke-linecap="butt"/>
<line x1="355.9" y1="976.9" x2="510.7" y2="971.5" stroke="#231f20" stroke-width="4.3" stroke-linecap="butt"/>
<line x1="355.9" y1="973" x2="510.7" y2="971.5" stroke="#231f20" stroke-width="4.3" stroke-linecap="butt"/>
<line x1="355.9" y1="971" x2="510.7" y2="971.5" stroke="#231f20" stroke-width="4.3" stroke-linecap="butt"/>
<line x1="355.9" y1="979" x2="510.7" y2="971.5" stroke="#231f20" stroke-width="4.3" stroke-linecap="butt"/>
<line x1="355.9" y1="980.5" x2="510.7" y2="971.5" stroke="#231f20" stroke-width="4.3" stroke-linecap="butt"/>
<circle cx="355.9" cy="876.3" r="8.9" fill="#e8262b" stroke="#231f20" stroke-width="3.75"/>
<circle cx="355.9" cy="928.8" r="8.9" fill="#e8262b" stroke="#231f20" stroke-width="3.75"/>
<circle cx="355.9" cy="916.3" r="8.9" fill="#e8262b" stroke="#231f20" stroke-width="3.75"/>
<circle cx="355.9" cy="944.8" r="8.9" fill="#e8262b" stroke="#231f20" stroke-width="3.75"/>
<circle cx="355.9" cy="964.9" r="8.9" fill="#e8262b" stroke="#231f20" stroke-width="3.75"/>
<circle cx="355.9" cy="968.9" r="8.9" fill="#e8262b" stroke="#231f20" stroke-width="3.75"/>
<circle cx="355.9" cy="976.9" r="8.9" fill="#e8262b" stroke="#231f20" stroke-width="3.75"/>
<circle cx="510.7" cy="971.5" r="8.65" fill="#e8262b" stroke="#231f20" stroke-width="0.9"/>
<path d="M501.7 971.5A9 9 0 0 1 519.7 971.5Z" fill="#231f20"/>
</g>
<line x1="253.5" y1="980.9" x2="615.7" y2="980.9" stroke="#231f20" stroke-width="4" stroke-linecap="round"/>
<text xml:space="preserve" transform="translate(843.77,729.4) scale(0.9351,1)" font-family='"Liberation Sans", sans-serif' font-weight="bold" font-size="52.8" fill="#231f20">E</text>
<text xml:space="preserve" transform="translate(1114.97,747.4) scale(1.0303,1)" font-family='"Liberation Sans", sans-serif' font-weight="bold" font-size="36.3" fill="#231f20">p=0.0039</text>
<line x1="1018.1" y1="736.8" x2="1018.1" y2="978.5" stroke="#231f20" stroke-width="4" stroke-linecap="round"/>
<line x1="1003.6" y1="977.4" x2="1018.1" y2="977.4" stroke="#231f20" stroke-width="4" stroke-linecap="round"/>
<line x1="1003.6" y1="917.4" x2="1018.1" y2="917.4" stroke="#231f20" stroke-width="4" stroke-linecap="round"/>
<line x1="1003.6" y1="857.4" x2="1018.1" y2="857.4" stroke="#231f20" stroke-width="4" stroke-linecap="round"/>
<line x1="1003.6" y1="797.4" x2="1018.1" y2="797.4" stroke="#231f20" stroke-width="4" stroke-linecap="round"/>
<line x1="1003.6" y1="737.4" x2="1018.1" y2="737.4" stroke="#231f20" stroke-width="4" stroke-linecap="round"/>
<text xml:space="preserve" transform="translate(979.58,989.9) scale(0.9777,1)" font-family='"Liberation Sans", sans-serif' font-weight="bold" font-size="35.8" fill="#231f20">0</text>
<text xml:space="preserve" transform="translate(979.14,929.9) scale(0.9777,1)" font-family='"Liberation Sans", sans-serif' font-weight="bold" font-size="35.8" fill="#231f20">5</text>
<text xml:space="preserve" transform="translate(960.15,869.9) scale(0.9777,1)" font-family='"Liberation Sans", sans-serif' font-weight="bold" font-size="35.8" fill="#231f20">10</text>
<text xml:space="preserve" transform="translate(959.71,809.9) scale(0.9777,1)" font-family='"Liberation Sans", sans-serif' font-weight="bold" font-size="35.8" fill="#231f20">15</text>
<text xml:space="preserve" transform="translate(960.15,749.9) scale(0.9777,1)" font-family='"Liberation Sans", sans-serif' font-weight="bold" font-size="35.8" fill="#231f20">20</text>
<line x1="1018.1" y1="977.4" x2="1378.3" y2="977.4" stroke="#231f20" stroke-width="4" stroke-linecap="round"/>
<line x1="1119.3" y1="977.4" x2="1119.3" y2="991.9" stroke="#231f20" stroke-width="4" stroke-linecap="round"/>
<line x1="1273.5" y1="977.4" x2="1273.5" y2="991.9" stroke="#231f20" stroke-width="4" stroke-linecap="round"/>
<text xml:space="preserve" transform="translate(1110.39,1026.2) scale(0.9777,1)" font-family='"Liberation Sans", sans-serif' font-weight="bold" font-size="35.8" fill="#231f20">0</text>
<text xml:space="preserve" transform="translate(1264.54,1026.2) scale(0.9777,1)" font-family='"Liberation Sans", sans-serif' font-weight="bold" font-size="35.8" fill="#231f20">5</text>
<text xml:space="preserve" transform="translate(1089.02,1086.6) scale(0.9696,1)" font-family='"Liberation Sans", sans-serif' font-weight="bold" font-size="39.5" fill="#231f20">Tert (mg/kg)</text>
<text transform="translate(934.7,1018.14) rotate(-90) scale(1.0436,1)" font-family='"Liberation Sans", sans-serif' font-weight="bold" font-size="39.5" fill="#231f20">SAN Pauses/60s</text>
<clipPath id="ec"><rect x="1090" y="850" width="210" height="127.4"/></clipPath><g clip-path="url(#ec)">
<line x1="1119.5" y1="874.1" x2="1273.5" y2="977" stroke="#231f20" stroke-width="4.3" stroke-linecap="butt"/>
<line x1="1119.5" y1="930.2" x2="1273.5" y2="977" stroke="#231f20" stroke-width="4.3" stroke-linecap="butt"/>
<line x1="1119.5" y1="967.5" x2="1273.5" y2="977" stroke="#231f20" stroke-width="4.3" stroke-linecap="butt"/>
<line x1="1119.5" y1="971" x2="1273.5" y2="977" stroke="#231f20" stroke-width="4.3" stroke-linecap="butt"/>
<line x1="1119.5" y1="974" x2="1273.5" y2="977" stroke="#231f20" stroke-width="4.3" stroke-linecap="butt"/>
<line x1="1119.5" y1="976.5" x2="1273.5" y2="977" stroke="#231f20" stroke-width="4.3" stroke-linecap="butt"/>
<circle cx="1119.5" cy="967.5" r="8.9" fill="#e8262b" stroke="#231f20" stroke-width="3.75"/>
<circle cx="1119.5" cy="930.2" r="8.9" fill="#e8262b" stroke="#231f20" stroke-width="3.75"/>
<circle cx="1119.5" cy="874.1" r="8.9" fill="#e8262b" stroke="#231f20" stroke-width="3.75"/>
<circle cx="1273.5" cy="977.4" r="8.65" fill="#e8262b" stroke="#231f20" stroke-width="0.9"/>
<path d="M1264.5 977.4A9 9 0 0 1 1282.5 977.4Z" fill="#231f20"/>
</g>
<line x1="1018.1" y1="977.4" x2="1378.3" y2="977.4" stroke="#231f20" stroke-width="4" stroke-linecap="round"/>
<text xml:space="preserve" transform="translate(0.9,1125.8) scale(0.9384,1)" font-family='"Liberation Sans", sans-serif' font-weight="bold" font-size="52.07" fill="#231f20">F</text>
<text xml:space="preserve" transform="translate(339.78,1181.7) scale(1.0195,1)" font-family='"Liberation Sans", sans-serif' font-weight="bold" font-size="31.5" fill="#231f20">Tert 0 mg/kg</text>
<line x1="220.1" y1="1141.7" x2="220.1" y2="1604.5" stroke="#231f20" stroke-width="4" stroke-linecap="round"/>
<line x1="205.6" y1="1602.6" x2="220.1" y2="1602.6" stroke="#231f20" stroke-width="4" stroke-linecap="round"/>
<line x1="205.6" y1="1449.2" x2="220.1" y2="1449.2" stroke="#231f20" stroke-width="4" stroke-linecap="round"/>
<line x1="205.6" y1="1295.8" x2="220.1" y2="1295.8" stroke="#231f20" stroke-width="4" stroke-linecap="round"/>
<line x1="205.6" y1="1142.4" x2="220.1" y2="1142.4" stroke="#231f20" stroke-width="4" stroke-linecap="round"/>
<text xml:space="preserve" transform="translate(161.35,1615.1) scale(0.9777,1)" font-family='"Liberation Sans", sans-serif' font-weight="bold" font-size="35.8" fill="#231f20">50</text>
<text xml:space="preserve" transform="translate(141.84,1461.7) scale(0.9777,1)" font-family='"Liberation Sans", sans-serif' font-weight="bold" font-size="35.8" fill="#231f20">100</text>
<text xml:space="preserve" transform="translate(141.84,1308.3) scale(0.9777,1)" font-family='"Liberation Sans", sans-serif' font-weight="bold" font-size="35.8" fill="#231f20">150</text>
<text xml:space="preserve" transform="translate(141.84,1154.9) scale(0.9777,1)" font-family='"Liberation Sans", sans-serif' font-weight="bold" font-size="35.8" fill="#231f20">200</text>
<line x1="220.1" y1="1603.4" x2="673.3" y2="1603.4" stroke="#231f20" stroke-width="4" stroke-linecap="round"/>
<line x1="284.1" y1="1603.4" x2="284.1" y2="1617.9" stroke="#231f20" stroke-width="4" stroke-linecap="round"/>
<line x1="413.5" y1="1603.4" x2="413.5" y2="1617.9" stroke="#231f20" stroke-width="4" stroke-linecap="round"/>
<line x1="542.4" y1="1603.4" x2="542.4" y2="1617.9" stroke="#231f20" stroke-width="4" stroke-linecap="round"/>
<line x1="671.7" y1="1603.4" x2="671.7" y2="1617.9" stroke="#231f20" stroke-width="4" stroke-linecap="round"/>
<text xml:space="preserve" transform="translate(265.11,1655) scale(0.9777,1)" font-family='"Liberation Sans", sans-serif' font-weight="bold" font-size="35.8" fill="#231f20">40</text>
<text xml:space="preserve" transform="translate(394.25,1655) scale(0.9777,1)" font-family='"Liberation Sans", sans-serif' font-weight="bold" font-size="35.8" fill="#231f20">50</text>
<text xml:space="preserve" transform="translate(523.02,1655) scale(0.9777,1)" font-family='"Liberation Sans", sans-serif' font-weight="bold" font-size="35.8" fill="#231f20">60</text>
<text xml:space="preserve" transform="translate(652.23,1655) scale(0.9777,1)" font-family='"Liberation Sans", sans-serif' font-weight="bold" font-size="35.8" fill="#231f20">70</text>
<text xml:space="preserve" transform="translate(373.59,1711.5) scale(0.9774,1)" font-family='"Liberation Sans", sans-serif' font-weight="bold" font-size="39.5" fill="#231f20">PR (ms)</text>
<text transform="translate(122,1447.82) rotate(-90) scale(0.9820,1)" font-family='"Liberation Sans", sans-serif' font-weight="bold" font-size="39.5" fill="#231f20">RR (ms)</text>
<text xml:space="preserve" transform="translate(237.96,1548.1) scale(1.0443,1)" font-family='"Liberation Sans", sans-serif' font-weight="bold" font-size="31.5" fill="#231f20">r  Spearman = 0.011</text>
<text xml:space="preserve" transform="translate(237.95,1584.1) scale(1.0520,1)" font-family='"Liberation Sans", sans-serif' font-weight="bold" font-size="31.5" fill="#231f20">p = 0.98</text>
<line x1="221.7" y1="1324.5" x2="671.3" y2="1312.8" stroke="#231f20" stroke-width="4" stroke-linecap="butt"/>
<circle cx="266.5" cy="1375.5" r="10.85" fill="#e8262b" stroke="#231f20" stroke-width="1.1"/>
<circle cx="316.2" cy="1333.1" r="10.85" fill="#e8262b" stroke="#231f20" stroke-width="1.1"/>
<circle cx="358.3" cy="1289.4" r="10.85" fill="#e8262b" stroke="#231f20" stroke-width="1.1"/>
<circle cx="350.6" cy="1297.8" r="10.85" fill="#e8262b" stroke="#231f20" stroke-width="1.1"/>
<circle cx="364.6" cy="1308.1" r="10.85" fill="#e8262b" stroke="#231f20" stroke-width="1.1"/>
<circle cx="380.6" cy="1297.8" r="10.85" fill="#e8262b" stroke="#231f20" stroke-width="1.1"/>
<circle cx="385" cy="1304.4" r="10.85" fill="#e8262b" stroke="#231f20" stroke-width="1.1"/>
<circle cx="474.7" cy="1324.8" r="10.85" fill="#e8262b" stroke="#231f20" stroke-width="1.1"/>
<circle cx="480.7" cy="1347.8" r="10.85" fill="#e8262b" stroke="#231f20" stroke-width="1.1"/>
<circle cx="499.4" cy="1395.5" r="10.85" fill="#e8262b" stroke="#231f20" stroke-width="1.1"/>
<circle cx="501.7" cy="1216.4" r="10.85" fill="#e8262b" stroke="#231f20" stroke-width="1.1"/>
<circle cx="525.7" cy="1272.1" r="10.85" fill="#e8262b" stroke="#231f20" stroke-width="1.1"/>
<circle cx="533.4" cy="1388.8" r="10.85" fill="#e8262b" stroke="#231f20" stroke-width="1.1"/>
<text xml:space="preserve" transform="translate(844.99,1126.27) scale(0.9428,1)" font-family='"Liberation Sans", sans-serif' font-weight="bold" font-size="53.43" fill="#231f20">G</text>
<text xml:space="preserve" transform="translate(1107.08,1182.4) scale(1.0200,1)" font-family='"Liberation Sans", sans-serif' font-weight="bold" font-size="31.5" fill="#231f20">Tert 5 mg/kg</text>
<line x1="975.4" y1="1141.7" x2="975.4" y2="1604.5" stroke="#231f20" stroke-width="4" stroke-linecap="round"/>
<line x1="959.9" y1="1602.6" x2="975.4" y2="1602.6" stroke="#231f20" stroke-width="4" stroke-linecap="round"/>
<line x1="959.9" y1="1449.2" x2="975.4" y2="1449.2" stroke="#231f20" stroke-width="4" stroke-linecap="round"/>
<line x1="959.9" y1="1295.8" x2="975.4" y2="1295.8" stroke="#231f20" stroke-width="4" stroke-linecap="round"/>
<line x1="959.9" y1="1142.4" x2="975.4" y2="1142.4" stroke="#231f20" stroke-width="4" stroke-linecap="round"/>
<text xml:space="preserve" transform="translate(916.65,1615.1) scale(0.9777,1)" font-family='"Liberation Sans", sans-serif' font-weight="bold" font-size="35.8" fill="#231f20">50</text>
<text xml:space="preserve" transform="translate(897.14,1461.7) scale(0.9777,1)" font-family='"Liberation Sans", sans-serif' font-weight="bold" font-size="35.8" fill="#231f20">100</text>
<text xml:space="preserve" transform="translate(897.14,1308.3) scale(0.9777,1)" font-family='"Liberation Sans", sans-serif' font-weight="bold" font-size="35.8" fill="#231f20">150</text>
<text xml:space="preserve" transform="translate(897.14,1154.9) scale(0.9777,1)" font-family='"Liberation Sans", sans-serif' font-weight="bold" font-size="35.8" fill="#231f20">200</text>
<line x1="975.4" y1="1603.4" x2="1427.7" y2="1603.4" stroke="#231f20" stroke-width="4" stroke-linecap="round"/>
<line x1="1039.4" y1="1603.4" x2="1039.4" y2="1617.9" stroke="#231f20" stroke-width="4" stroke-linecap="round"/>
<line x1="1168.3" y1="1603.4" x2="1168.3" y2="1617.9" stroke="#231f20" stroke-width="4" stroke-linecap="round"/>
<line x1="1297.2" y1="1603.4" x2="1297.2" y2="1617.9" stroke="#231f20" stroke-width="4" stroke-linecap="round"/>
<line x1="1426.5" y1="1603.4" x2="1426.5" y2="1617.9" stroke="#231f20" stroke-width="4" stroke-linecap="round"/>
<text xml:space="preserve" transform="translate(1020.41,1655) scale(0.9777,1)" font-family='"Liberation Sans", sans-serif' font-weight="bold" font-size="35.8" fill="#231f20">40</text>
<text xml:space="preserve" transform="translate(1149.05,1655) scale(0.9777,1)" font-family='"Liberation Sans", sans-serif' font-weight="bold" font-size="35.8" fill="#231f20">50</text>
<text xml:space="preserve" transform="translate(1277.82,1655) scale(0.9777,1)" font-family='"Liberation Sans", sans-serif' font-weight="bold" font-size="35.8" fill="#231f20">60</text>
<text xml:space="preserve" transform="translate(1407.03,1655) scale(0.9777,1)" font-family='"Liberation Sans", sans-serif' font-weight="bold" font-size="35.8" fill="#231f20">70</text>
<text xml:space="preserve" transform="translate(1129.62,1711.5) scale(0.9691,1)" font-family='"Liberation Sans", sans-serif' font-weight="bold" font-size="39.5" fill="#231f20">PR (ms)</text>
<text transform="translate(876.5,1447.82) rotate(-90) scale(0.9820,1)" font-family='"Liberation Sans", sans-serif' font-weight="bold" font-size="39.5" fill="#231f20">RR (ms)</text>
<text xml:space="preserve" transform="translate(992.75,1548.1) scale(1.0512,1)" font-family='"Liberation Sans", sans-serif' font-weight="bold" font-size="31.5" fill="#231f20">r  Spearman = 0.569</text>
<text xml:space="preserve" transform="translate(992.76,1584.1) scale(1.0448,1)" font-family='"Liberation Sans", sans-serif' font-weight="bold" font-size="31.5" fill="#231f20">p = 0.04</text>
<line x1="975" y1="1426.9" x2="1426" y2="1262.8" stroke="#231f20" stroke-width="4" stroke-linecap="butt"/>
<circle cx="1009" cy="1425.2" r="11.3" fill="#e8262b" stroke="#231f20" stroke-width="1"/>
<path d="M997.3 1425.2A11.7 11.7 0 0 1 1020.7 1425.2Z" fill="#231f20"/>
<circle cx="1059.1" cy="1407.9" r="11.3" fill="#e8262b" stroke="#231f20" stroke-width="1"/>
<path d="M1047.4 1407.9A11.7 11.7 0 0 1 1070.8 1407.9Z" fill="#231f20"/>
<circle cx="1071.1" cy="1351.8" r="11.3" fill="#e8262b" stroke="#231f20" stroke-width="1"/>
<path d="M1059.4 1351.8A11.7 11.7 0 0 1 1082.8 1351.8Z" fill="#231f20"/>
<circle cx="1086.1" cy="1401.2" r="11.3" fill="#e8262b" stroke="#231f20" stroke-width="1"/>
<path d="M1074.4 1401.2A11.7 11.7 0 0 1 1097.8 1401.2Z" fill="#231f20"/>
<circle cx="1099.4" cy="1369.5" r="11.3" fill="#e8262b" stroke="#231f20" stroke-width="1"/>
<path d="M1087.7 1369.5A11.7 11.7 0 0 1 1111.1 1369.5Z" fill="#231f20"/>
<circle cx="1105.8" cy="1379.2" r="11.3" fill="#e8262b" stroke="#231f20" stroke-width="1"/>
<path d="M1094.1 1379.2A11.7 11.7 0 0 1 1117.5 1379.2Z" fill="#231f20"/>
<circle cx="1160.1" cy="1325.8" r="11.3" fill="#e8262b" stroke="#231f20" stroke-width="1"/>
<path d="M1148.4 1325.8A11.7 11.7 0 0 1 1171.8 1325.8Z" fill="#231f20"/>
<circle cx="1190.2" cy="1405.9" r="11.3" fill="#e8262b" stroke="#231f20" stroke-width="1"/>
<path d="M1178.5 1405.9A11.7 11.7 0 0 1 1201.9 1405.9Z" fill="#231f20"/>
<circle cx="1215.2" cy="1400.2" r="11.3" fill="#e8262b" stroke="#231f20" stroke-width="1"/>
<path d="M1203.5 1400.2A11.7 11.7 0 0 1 1226.9 1400.2Z" fill="#231f20"/>
<circle cx="1205.8" cy="1407.9" r="11.3" fill="#e8262b" stroke="#231f20" stroke-width="1"/>
<path d="M1194.1 1407.9A11.7 11.7 0 0 1 1217.5 1407.9Z" fill="#231f20"/>
<circle cx="1201.8" cy="1271.1" r="11.3" fill="#e8262b" stroke="#231f20" stroke-width="1"/>
<path d="M1190.1 1271.1A11.7 11.7 0 0 1 1213.5 1271.1Z" fill="#231f20"/>
<circle cx="1240.2" cy="1275.1" r="11.3" fill="#e8262b" stroke="#231f20" stroke-width="1"/>
<path d="M1228.5 1275.1A11.7 11.7 0 0 1 1251.9 1275.1Z" fill="#231f20"/>
<circle cx="1290.2" cy="1303.5" r="11.3" fill="#e8262b" stroke="#231f20" stroke-width="1"/>
<path d="M1278.5 1303.5A11.7 11.7 0 0 1 1301.9 1303.5Z" fill="#231f20"/>
<text xml:space="preserve" transform="translate(-0.42,1789.8) scale(0.9420,1)" font-family='"Liberation Sans", sans-serif' font-weight="bold" font-size="52.22" fill="#231f20">H</text>
<text xml:space="preserve" transform="translate(338.23,1790.7) scale(1.0461,1)" font-family='"Liberation Sans", sans-serif' font-weight="bold" font-size="36.3" fill="#231f20">p=0.0002</text>
<line x1="240.2" y1="1808.7" x2="240.2" y2="2051.6" stroke="#231f20" stroke-width="4" stroke-linecap="round"/>
<line x1="225.7" y1="2050.1" x2="240.2" y2="2050.1" stroke="#231f20" stroke-width="4" stroke-linecap="round"/>
<line x1="225.7" y1="1990.1" x2="240.2" y2="1990.1" stroke="#231f20" stroke-width="4" stroke-linecap="round"/>
<line x1="225.7" y1="1930.1" x2="240.2" y2="1930.1" stroke="#231f20" stroke-width="4" stroke-linecap="round"/>
<line x1="225.7" y1="1870.1" x2="240.2" y2="1870.1" stroke="#231f20" stroke-width="4" stroke-linecap="round"/>
<line x1="225.7" y1="1810.1" x2="240.2" y2="1810.1" stroke="#231f20" stroke-width="4" stroke-linecap="round"/>
<text xml:space="preserve" transform="translate(161.21,2062.6) scale(0.9777,1)" font-family='"Liberation Sans", sans-serif' font-weight="bold" font-size="35.8" fill="#231f20">-1.0</text>
<text xml:space="preserve" transform="translate(160.77,2002.6) scale(0.9777,1)" font-family='"Liberation Sans", sans-serif' font-weight="bold" font-size="35.8" fill="#231f20">-0.5</text>
<text xml:space="preserve" transform="translate(172.85,1942.6) scale(0.9777,1)" font-family='"Liberation Sans", sans-serif' font-weight="bold" font-size="35.8" fill="#231f20">0.0</text>
<text xml:space="preserve" transform="translate(172.41,1882.6) scale(0.9777,1)" font-family='"Liberation Sans", sans-serif' font-weight="bold" font-size="35.8" fill="#231f20">0.5</text>
<text xml:space="preserve" transform="translate(172.85,1822.6) scale(0.9777,1)" font-family='"Liberation Sans", sans-serif' font-weight="bold" font-size="35.8" fill="#231f20">1.0</text>
<line x1="240.2" y1="2050.1" x2="601.6" y2="2050.1" stroke="#231f20" stroke-width="4" stroke-linecap="round"/>
<line x1="342.6" y1="2050.1" x2="342.6" y2="2064.6" stroke="#231f20" stroke-width="4" stroke-linecap="round"/>
<line x1="496.8" y1="2050.1" x2="496.8" y2="2064.6" stroke="#231f20" stroke-width="4" stroke-linecap="round"/>
<text xml:space="preserve" transform="translate(333.69,2100) scale(0.9777,1)" font-family='"Liberation Sans", sans-serif' font-weight="bold" font-size="35.8" fill="#231f20">0</text>
<text xml:space="preserve" transform="translate(487.84,2100) scale(0.9777,1)" font-family='"Liberation Sans", sans-serif' font-weight="bold" font-size="35.8" fill="#231f20">5</text>
<text xml:space="preserve" transform="translate(311.81,2153.3) scale(0.9821,1)" font-family='"Liberation Sans", sans-serif' font-weight="bold" font-size="39.5" fill="#231f20">Tert (mg/kg)</text>
<text transform="translate(139.4,2073.33) rotate(-90) scale(0.9550,1)" font-family='"Liberation Sans", sans-serif' font-weight="bold" font-size="39.5" fill="#231f20">Spearman Coeff</text>
<line x1="342.4" y1="1865.4" x2="497.3" y2="1810.3" stroke="#231f20" stroke-width="4.3" stroke-linecap="butt"/>
<line x1="342.4" y1="1872" x2="497.3" y2="1822.8" stroke="#231f20" stroke-width="4.3" stroke-linecap="butt"/>
<line x1="342.4" y1="1885.9" x2="497.3" y2="1840" stroke="#231f20" stroke-width="4.3" stroke-linecap="butt"/>
<line x1="342.4" y1="1912.9" x2="497.3" y2="1854" stroke="#231f20" stroke-width="4.3" stroke-linecap="butt"/>
<line x1="342.4" y1="1920" x2="497.3" y2="1862.4" stroke="#231f20" stroke-width="4.3" stroke-linecap="butt"/>
<line x1="342.4" y1="1930.3" x2="497.3" y2="1877.4" stroke="#231f20" stroke-width="4.3" stroke-linecap="butt"/>
<line x1="342.4" y1="1935.7" x2="497.3" y2="1845.6" stroke="#231f20" stroke-width="4.3" stroke-linecap="butt"/>
<line x1="342.4" y1="1954.3" x2="497.3" y2="1822.8" stroke="#231f20" stroke-width="4.3" stroke-linecap="butt"/>
<line x1="342.4" y1="1976.5" x2="497.3" y2="1884.1" stroke="#231f20" stroke-width="4.3" stroke-linecap="butt"/>
<line x1="342.4" y1="1995.7" x2="497.3" y2="1836" stroke="#231f20" stroke-width="4.3" stroke-linecap="butt"/>
<line x1="342.4" y1="2036.6" x2="497.3" y2="1842" stroke="#231f20" stroke-width="4.3" stroke-linecap="butt"/>
<circle cx="342.4" cy="1872" r="8.9" fill="#e8262b" stroke="#231f20" stroke-width="3.75"/>
<circle cx="342.4" cy="1920" r="8.9" fill="#e8262b" stroke="#231f20" stroke-width="3.75"/>
<circle cx="342.4" cy="1935.7" r="8.9" fill="#e8262b" stroke="#231f20" stroke-width="3.75"/>
<circle cx="342.4" cy="1865.4" r="8.9" fill="#e8262b" stroke="#231f20" stroke-width="3.75"/>
<circle cx="342.4" cy="1885.9" r="8.9" fill="#e8262b" stroke="#231f20" stroke-width="3.75"/>
<circle cx="342.4" cy="1912.9" r="8.9" fill="#e8262b" stroke="#231f20" stroke-width="3.75"/>
<circle cx="342.4" cy="1930.3" r="8.9" fill="#e8262b" stroke="#231f20" stroke-width="3.75"/>
<circle cx="342.4" cy="1954.3" r="8.9" fill="#e8262b" stroke="#231f20" stroke-width="3.75"/>
<circle cx="342.4" cy="1976.5" r="8.9" fill="#e8262b" stroke="#231f20" stroke-width="3.75"/>
<circle cx="342.4" cy="1995.7" r="8.9" fill="#e8262b" stroke="#231f20" stroke-width="3.75"/>
<circle cx="342.4" cy="2036.6" r="8.9" fill="#e8262b" stroke="#231f20" stroke-width="3.75"/>
<clipPath id="hc"><rect x="480" y="1810" width="40" height="100"/></clipPath><g clip-path="url(#hc)">
<circle cx="497.3" cy="1810.3" r="8.65" fill="#e8262b" stroke="#231f20" stroke-width="0.9"/>
<path d="M488.3 1810.3A9 9 0 0 1 506.3 1810.3Z" fill="#231f20"/>
<circle cx="497.3" cy="1822.8" r="8.65" fill="#e8262b" stroke="#231f20" stroke-width="0.9"/>
<path d="M488.3 1822.8A9 9 0 0 1 506.3 1822.8Z" fill="#231f20"/>
<circle cx="497.3" cy="1836" r="8.65" fill="#e8262b" stroke="#231f20" stroke-width="0.9"/>
<path d="M488.3 1836A9 9 0 0 1 506.3 1836Z" fill="#231f20"/>
<circle cx="497.3" cy="1845.6" r="8.65" fill="#e8262b" stroke="#231f20" stroke-width="0.9"/>
<path d="M488.3 1845.6A9 9 0 0 1 506.3 1845.6Z" fill="#231f20"/>
<circle cx="497.3" cy="1854" r="8.65" fill="#e8262b" stroke="#231f20" stroke-width="0.9"/>
<path d="M488.3 1854A9 9 0 0 1 506.3 1854Z" fill="#231f20"/>
<circle cx="497.3" cy="1862.4" r="8.65" fill="#e8262b" stroke="#231f20" stroke-width="0.9"/>
<path d="M488.3 1862.4A9 9 0 0 1 506.3 1862.4Z" fill="#231f20"/>
<circle cx="497.3" cy="1877.4" r="8.65" fill="#e8262b" stroke="#231f20" stroke-width="0.9"/>
<path d="M488.3 1877.4A9 9 0 0 1 506.3 1877.4Z" fill="#231f20"/>
<circle cx="497.3" cy="1884.1" r="8.65" fill="#e8262b" stroke="#231f20" stroke-width="0.9"/>
<path d="M488.3 1884.1A9 9 0 0 1 506.3 1884.1Z" fill="#231f20"/>
</g>
<text xml:space="preserve" transform="translate(841.84,1789.8) scale(0.9568,1)" font-family='"Liberation Sans", sans-serif' font-weight="bold" font-size="52.07" fill="#231f20">I</text>
<line x1="995.4" y1="1814.9" x2="995.4" y2="2056.9" stroke="#231f20" stroke-width="4" stroke-linecap="round"/>
<line x1="980.9" y1="2055.7" x2="995.4" y2="2055.7" stroke="#231f20" stroke-width="4" stroke-linecap="round"/>
<line x1="980.9" y1="1975.4" x2="995.4" y2="1975.4" stroke="#231f20" stroke-width="4" stroke-linecap="round"/>
<line x1="980.9" y1="1894.8" x2="995.4" y2="1894.8" stroke="#231f20" stroke-width="4" stroke-linecap="round"/>
<line x1="980.9" y1="1814.2" x2="995.4" y2="1814.2" stroke="#231f20" stroke-width="4" stroke-linecap="round"/>
<text xml:space="preserve" transform="translate(926.23,2068.2) scale(0.9777,1)" font-family='"Liberation Sans", sans-serif' font-weight="bold" font-size="35.8" fill="#231f20">-10</text>
<text xml:space="preserve" transform="translate(957.38,1987.9) scale(0.9777,1)" font-family='"Liberation Sans", sans-serif' font-weight="bold" font-size="35.8" fill="#231f20">0</text>
<text xml:space="preserve" transform="translate(937.95,1907.3) scale(0.9777,1)" font-family='"Liberation Sans", sans-serif' font-weight="bold" font-size="35.8" fill="#231f20">10</text>
<text xml:space="preserve" transform="translate(937.95,1826.7) scale(0.9777,1)" font-family='"Liberation Sans", sans-serif' font-weight="bold" font-size="35.8" fill="#231f20">20</text>
<line x1="995.4" y1="1975.5" x2="1356.2" y2="1975.5" stroke="#231f20" stroke-width="4" stroke-linecap="round"/>
<line x1="1174.7" y1="1975.5" x2="1174.7" y2="1990" stroke="#231f20" stroke-width="4" stroke-linecap="round"/>
<line x1="1282.8" y1="1975.5" x2="1282.8" y2="1990" stroke="#231f20" stroke-width="4" stroke-linecap="round"/>
<line x1="1050.1" y1="1811.6" x2="1278.6" y2="1811.6" stroke="#231f20" stroke-width="6.5" stroke-linecap="round"/>
<line x1="1049.4" y1="1867.6" x2="1171" y2="1867.6" stroke="#231f20" stroke-width="6.5" stroke-linecap="round"/>
<text xml:space="preserve" transform="translate(1081.1,1797.7) scale(1.0172,1)" font-family='"Liberation Sans", sans-serif' font-weight="bold" font-size="36.3" fill="#231f20">p&lt;0.0001</text>
<text xml:space="preserve" transform="translate(1027.69,1860) scale(1.0194,1)" font-family='"Liberation Sans", sans-serif' font-weight="bold" font-size="36.3" fill="#231f20">p=0.0011</text>
<text transform="translate(908,2031.84) rotate(-90) scale(0.9518,1)" font-family='"Liberation Sans", sans-serif' font-weight="bold" font-size="39.5" fill="#231f20">Ang. coeff.</text>
<line x1="1029.3" y1="1984.7" x2="1104.4" y2="1984.7" stroke="#231f20" stroke-width="3.5" stroke-linecap="round"/>
<circle cx="1065" cy="1988" r="9" fill="#ee464c" stroke="#231f20" stroke-width="3.75"/>
<circle cx="1073.4" cy="1960" r="9" fill="#ee464c" stroke="#231f20" stroke-width="3.75"/>
<circle cx="1051.4" cy="1964" r="9" fill="#ee464c" stroke="#231f20" stroke-width="3.75"/>
<circle cx="1061.7" cy="1956.4" r="9" fill="#ee464c" stroke="#231f20" stroke-width="3.75"/>
<circle cx="1040" cy="1970" r="9" fill="#ee464c" stroke="#231f20" stroke-width="3.75"/>
<circle cx="1072" cy="1980" r="9" fill="#ee464c" stroke="#231f20" stroke-width="3.75"/>
<circle cx="1083.4" cy="1969.4" r="9" fill="#ee464c" stroke="#231f20" stroke-width="3.75"/>
<circle cx="1094" cy="1956.7" r="9" fill="#ee464c" stroke="#231f20" stroke-width="3.75"/>
<circle cx="1050.7" cy="1991.4" r="9" fill="#ee464c" stroke="#231f20" stroke-width="3.75"/>
<circle cx="1083.4" cy="1990.7" r="9" fill="#ee464c" stroke="#231f20" stroke-width="3.75"/>
<circle cx="1073.4" cy="2004.7" r="9" fill="#ee464c" stroke="#231f20" stroke-width="3.75"/>
<circle cx="1061.7" cy="2004.7" r="9" fill="#ee464c" stroke="#231f20" stroke-width="3.75"/>
<circle cx="1061.4" cy="2028.7" r="9" fill="#ee464c" stroke="#231f20" stroke-width="3.75"/>
<circle cx="1072.7" cy="2025.4" r="9" fill="#ee464c" stroke="#231f20" stroke-width="3.75"/>
<line x1="1137.3" y1="1941" x2="1212.3" y2="1941" stroke="#231f20" stroke-width="4" stroke-linecap="round"/>
<circle cx="1183.4" cy="1912.3" r="8.7" fill="#e8262b" stroke="#231f20" stroke-width="0.9"/>
<path d="M1174.35 1912.3A9.05 9.05 0 0 1 1192.45 1912.3Z" fill="#231f20"/>
<circle cx="1201.8" cy="1923" r="8.7" fill="#e8262b" stroke="#231f20" stroke-width="0.9"/>
<path d="M1192.75 1923A9.05 9.05 0 0 1 1210.85 1923Z" fill="#231f20"/>
<circle cx="1156.7" cy="1926.4" r="8.7" fill="#e8262b" stroke="#231f20" stroke-width="0.9"/>
<path d="M1147.65 1926.4A9.05 9.05 0 0 1 1165.75 1926.4Z" fill="#231f20"/>
<circle cx="1148" cy="1933.7" r="8.7" fill="#e8262b" stroke="#231f20" stroke-width="0.9"/>
<path d="M1138.95 1933.7A9.05 9.05 0 0 1 1157.05 1933.7Z" fill="#231f20"/>
<circle cx="1174.7" cy="1933" r="8.7" fill="#e8262b" stroke="#231f20" stroke-width="0.9"/>
<path d="M1165.65 1933A9.05 9.05 0 0 1 1183.75 1933Z" fill="#231f20"/>
<circle cx="1156.7" cy="1948.4" r="8.7" fill="#e8262b" stroke="#231f20" stroke-width="0.9"/>
<path d="M1147.65 1948.4A9.05 9.05 0 0 1 1165.75 1948.4Z" fill="#231f20"/>
<circle cx="1191.4" cy="1948.4" r="8.7" fill="#e8262b" stroke="#231f20" stroke-width="0.9"/>
<path d="M1182.35 1948.4A9.05 9.05 0 0 1 1200.45 1948.4Z" fill="#231f20"/>
<circle cx="1186" cy="1941" r="8.7" fill="#e8262b" stroke="#231f20" stroke-width="0.9"/>
<path d="M1176.95 1941A9.05 9.05 0 0 1 1195.05 1941Z" fill="#231f20"/>
<circle cx="1165.4" cy="1941" r="8.7" fill="#e8262b" stroke="#231f20" stroke-width="0.9"/>
<path d="M1156.35 1941A9.05 9.05 0 0 1 1174.45 1941Z" fill="#231f20"/>
<circle cx="1202" cy="1941.7" r="8.7" fill="#e8262b" stroke="#231f20" stroke-width="0.9"/>
<path d="M1192.95 1941.7A9.05 9.05 0 0 1 1211.05 1941.7Z" fill="#231f20"/>
<circle cx="1174.7" cy="1957" r="8.7" fill="#e8262b" stroke="#231f20" stroke-width="0.9"/>
<path d="M1165.65 1957A9.05 9.05 0 0 1 1183.75 1957Z" fill="#231f20"/>
<circle cx="1165.4" cy="1967.7" r="8.7" fill="#e8262b" stroke="#231f20" stroke-width="0.9"/>
<path d="M1156.35 1967.7A9.05 9.05 0 0 1 1174.45 1967.7Z" fill="#231f20"/>
<circle cx="1183.4" cy="1964.4" r="8.7" fill="#e8262b" stroke="#231f20" stroke-width="0.9"/>
<path d="M1174.35 1964.4A9.05 9.05 0 0 1 1192.45 1964.4Z" fill="#231f20"/>
<line x1="1245" y1="1929.4" x2="1320.5" y2="1929.4" stroke="#231f20" stroke-width="4" stroke-linecap="round"/>
<circle cx="1269.2" cy="1907.7" r="8.7" fill="#fff" stroke="#231f20" stroke-width="0.9"/>
<path d="M1260.15 1907.7A9.05 9.05 0 0 1 1278.25 1907.7Z" fill="#231f20"/>
<circle cx="1255.4" cy="1922.4" r="8.7" fill="#fff" stroke="#231f20" stroke-width="0.9"/>
<path d="M1246.35 1922.4A9.05 9.05 0 0 1 1264.45 1922.4Z" fill="#231f20"/>
<circle cx="1296.1" cy="1924.4" r="8.7" fill="#fff" stroke="#231f20" stroke-width="0.9"/>
<path d="M1287.05 1924.4A9.05 9.05 0 0 1 1305.15 1924.4Z" fill="#231f20"/>
<circle cx="1310.1" cy="1923" r="8.7" fill="#fff" stroke="#231f20" stroke-width="0.9"/>
<path d="M1301.05 1923A9.05 9.05 0 0 1 1319.15 1923Z" fill="#231f20"/>
<circle cx="1268.8" cy="1927" r="8.7" fill="#fff" stroke="#231f20" stroke-width="0.9"/>
<path d="M1259.75 1927A9.05 9.05 0 0 1 1277.85 1927Z" fill="#231f20"/>
<circle cx="1296.1" cy="1943.7" r="8.7" fill="#fff" stroke="#231f20" stroke-width="0.9"/>
<path d="M1287.05 1943.7A9.05 9.05 0 0 1 1305.15 1943.7Z" fill="#231f20"/>
<circle cx="1282.1" cy="1933.7" r="8.7" fill="#fff" stroke="#231f20" stroke-width="0.9"/>
<path d="M1273.05 1933.7A9.05 9.05 0 0 1 1291.15 1933.7Z" fill="#231f20"/>
<circle cx="1269.2" cy="1950.8" r="8.7" fill="#fff" stroke="#231f20" stroke-width="0.9"/>
<path d="M1260.15 1950.8A9.05 9.05 0 0 1 1278.25 1950.8Z" fill="#231f20"/>
<circle cx="980.7" cy="2117.4" r="9.3" fill="#ee464c" stroke="#231f20" stroke-width="3.75"/>
<text xml:space="preserve" transform="translate(996.38,2127.7) scale(0.9865,1)" font-family='"Liberation Sans", sans-serif' font-weight="bold" font-size="32.5" fill="#231f20">Tert 0 mg/kg</text>
<circle cx="1225.5" cy="2117.4" r="9.2" fill="#e8262b" stroke="#231f20" stroke-width="0.9"/>
<path d="M1215.95 2117.4A9.55 9.55 0 0 1 1235.05 2117.4Z" fill="#231f20"/>
<text xml:space="preserve" transform="translate(1244.88,2127.7) scale(0.9828,1)" font-family='"Liberation Sans", sans-serif' font-weight="bold" font-size="32.5" fill="#231f20">Tert 5 mg/kg</text>
<circle cx="980" cy="2166.1" r="9.2" fill="#fff" stroke="#231f20" stroke-width="0.9"/>
<path d="M970.45 2166.1A9.55 9.55 0 0 1 989.55 2166.1Z" fill="#231f20"/>
<text xml:space="preserve" transform="translate(999.68,2176.7) scale(0.9857,1)" font-family='"Liberation Sans", sans-serif' font-weight="bold" font-size="32.5" fill="#231f20">Tert 5 mg/kg (in WT)</text>
</svg></body></html>
